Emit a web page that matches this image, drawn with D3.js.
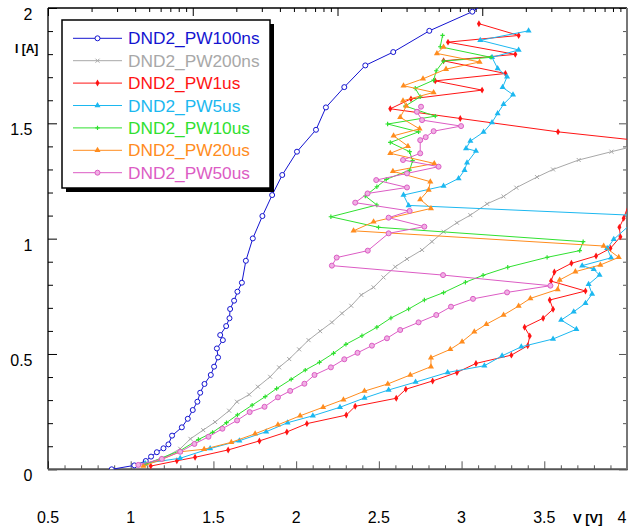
<!DOCTYPE html>
<html>
<head>
<meta charset="utf-8">
<script src="https://cdn.jsdelivr.net/npm/d3@7"></script>
<style>
  body { margin: 0; background: #fff; }
  text { font-family: "Liberation Sans", Arial, sans-serif; }
</style>
</head>
<body>
<svg id="chart" width="629" height="529"></svg>
<script>
// V [V], I [A] pairs
const pw100ns = [
  [0.885, 0.000], [1.022, 0.017], [1.091, 0.036], [1.123, 0.055], [1.158, 0.074],
  [1.198, 0.091], [1.228, 0.108], [1.250, 0.146], [1.309, 0.182], [1.345, 0.219],
  [1.375, 0.257], [1.403, 0.293], [1.420, 0.332], [1.446, 0.370], [1.484, 0.409],
  [1.504, 0.445], [1.528, 0.485], [1.521, 0.524], [1.557, 0.560], [1.541, 0.582],
  [1.577, 0.621], [1.597, 0.655], [1.601, 0.695], [1.625, 0.731], [1.645, 0.770],
  [1.672, 0.809], [1.696, 0.904], [1.738, 1.001], [1.796, 1.098], [1.855, 1.189],
  [1.916, 1.276], [2.005, 1.377], [2.120, 1.472], [2.180, 1.569], [2.291, 1.657],
  [2.418, 1.751], [2.587, 1.809], [2.805, 1.901], [3.065, 1.984], [3.200, 2.050]
];
const pw200ns = [
  [1.075, 0.021], [1.188, 0.045], [1.299, 0.089], [1.361, 0.132], [1.438, 0.170],
  [1.510, 0.205], [1.595, 0.254], [1.642, 0.293], [1.716, 0.324], [1.769, 0.358],
  [1.843, 0.401], [1.897, 0.442], [1.958, 0.478], [2.018, 0.520], [2.075, 0.560],
  [2.145, 0.599], [2.216, 0.637], [2.277, 0.676], [2.333, 0.709], [2.394, 0.756],
  [2.468, 0.789], [2.528, 0.832], [2.599, 0.878], [2.670, 0.912], [2.761, 0.951],
  [2.821, 0.987], [2.891, 1.030], [2.972, 1.069], [3.053, 1.102], [3.154, 1.151],
  [3.254, 1.183], [3.331, 1.221], [3.456, 1.267], [3.553, 1.300], [3.708, 1.341],
  [3.906, 1.377], [4.100, 1.411]
];
const pw1us = [
  [1.121, 0.014], [1.279, 0.037], [1.389, 0.052], [1.589, 0.084], [1.778, 0.123],
  [1.944, 0.162], [2.065, 0.198], [2.303, 0.235], [2.357, 0.273], [2.605, 0.308],
  [2.663, 0.347], [2.825, 0.383], [2.972, 0.420], [3.087, 0.459], [3.301, 0.495],
  [3.400, 0.536], [3.412, 0.578], [3.381, 0.616], [3.493, 0.655], [3.553, 0.694],
  [3.533, 0.734], [3.749, 0.773], [3.541, 0.816], [3.561, 0.855], [3.664, 0.893],
  [3.813, 0.925], [3.900, 0.958], [3.960, 1.008], [3.954, 1.049], [3.980, 1.088],
  [4.140, 1.420], [3.583, 1.463], [2.992, 1.521], [2.569, 1.563], [2.694, 1.606],
  [3.124, 1.644], [2.841, 1.684], [3.265, 1.716], [2.891, 1.771], [3.325, 1.799],
  [2.918, 1.852], [3.345, 1.881], [3.105, 1.932]
];
const pw5us = [
  [1.087, 0.026], [1.299, 0.048], [1.480, 0.090], [1.657, 0.124], [1.819, 0.163],
  [1.948, 0.202], [2.101, 0.232], [2.265, 0.269], [2.413, 0.309], [2.559, 0.344],
  [2.722, 0.378], [2.916, 0.420], [3.138, 0.449], [3.245, 0.492], [3.361, 0.531],
  [3.553, 0.565], [3.694, 0.607], [3.602, 0.647], [3.678, 0.683], [3.749, 0.720],
  [3.789, 0.760], [3.768, 0.802], [3.834, 0.842], [3.799, 0.867], [3.729, 0.883],
  [3.904, 0.917], [3.880, 0.958], [3.920, 0.997], [4.080, 1.100], [2.680, 1.144],
  [2.649, 1.189], [2.891, 1.228], [2.982, 1.261], [3.018, 1.297], [3.033, 1.329],
  [3.087, 1.380], [3.027, 1.391], [3.053, 1.423], [3.133, 1.462], [3.184, 1.504],
  [3.218, 1.543], [3.254, 1.583], [3.311, 1.624], [3.248, 1.656], [3.275, 1.702],
  [3.218, 1.738], [3.184, 1.786], [3.345, 1.818], [3.113, 1.860], [3.405, 1.901]
];
const pw10us = [
  [1.093, 0.023], [1.299, 0.081], [1.409, 0.129], [1.495, 0.160], [1.579, 0.202],
  [1.645, 0.236], [1.734, 0.278], [1.813, 0.315], [1.882, 0.350], [1.970, 0.390],
  [2.055, 0.430], [2.141, 0.464], [2.226, 0.503], [2.301, 0.542], [2.398, 0.579],
  [2.488, 0.616], [2.573, 0.656], [2.680, 0.695], [2.775, 0.734], [2.891, 0.766],
  [3.023, 0.811], [3.130, 0.841], [3.279, 0.876], [3.517, 0.919], [3.714, 0.948],
  [3.735, 0.987], [2.498, 1.049], [2.210, 1.095], [2.488, 1.146], [2.418, 1.185],
  [2.488, 1.225], [2.545, 1.257], [2.686, 1.297], [2.704, 1.338], [2.686, 1.377],
  [2.569, 1.417], [2.740, 1.463], [2.553, 1.497], [2.841, 1.531], [2.660, 1.575],
  [2.750, 1.615], [2.720, 1.652], [2.831, 1.687], [2.847, 1.728], [2.891, 1.770],
  [3.178, 1.786], [2.871, 1.832], [2.885, 1.881]
];
const pw20us = [
  [1.077, 0.014], [1.188, 0.043], [1.299, 0.076], [1.444, 0.087], [1.608, 0.117],
  [1.752, 0.154], [1.890, 0.193], [2.024, 0.232], [2.163, 0.269], [2.286, 0.302],
  [2.413, 0.339], [2.554, 0.370], [2.690, 0.409], [2.815, 0.445], [2.815, 0.484],
  [2.932, 0.520], [3.003, 0.553], [3.077, 0.596], [3.150, 0.629], [3.254, 0.669],
  [3.345, 0.708], [3.416, 0.741], [3.581, 0.780], [3.593, 0.821], [3.688, 0.857],
  [3.839, 0.886], [3.950, 0.919], [3.859, 0.968], [2.347, 1.034], [2.468, 1.073],
  [2.815, 1.131], [2.750, 1.170], [2.801, 1.211], [2.811, 1.247], [2.585, 1.292],
  [2.835, 1.326], [2.569, 1.370], [2.676, 1.401], [2.589, 1.446], [2.746, 1.476],
  [2.629, 1.526], [2.666, 1.575], [2.646, 1.598], [2.831, 1.634], [2.649, 1.663],
  [2.767, 1.693], [2.906, 1.735], [3.109, 1.766], [2.851, 1.803], [2.891, 1.831]
];
const pw50us = [
  [1.046, 0.019], [1.188, 0.045], [1.299, 0.076], [1.385, 0.110], [1.470, 0.141],
  [1.554, 0.176], [1.643, 0.212], [1.719, 0.248], [1.809, 0.271], [1.890, 0.312],
  [1.964, 0.340], [2.050, 0.371], [2.111, 0.409], [2.210, 0.442], [2.291, 0.477],
  [2.371, 0.505], [2.458, 0.536], [2.549, 0.568], [2.629, 0.604], [2.740, 0.637],
  [2.847, 0.669], [2.936, 0.705], [3.069, 0.739], [3.275, 0.767], [3.537, 0.796],
  [2.888, 0.842], [2.216, 0.883], [2.245, 0.918], [2.433, 0.948], [2.559, 1.023],
  [2.775, 1.052], [2.559, 1.091], [2.686, 1.120], [2.357, 1.156], [2.432, 1.196],
  [2.670, 1.222], [2.484, 1.254], [2.670, 1.283], [2.861, 1.312], [2.646, 1.341],
  [2.750, 1.370], [2.750, 1.427], [2.783, 1.440], [2.831, 1.466], [2.997, 1.488],
  [2.761, 1.514], [2.730, 1.550], [2.755, 1.572]
];

const xTickLabels = ["0.5", "1", "1.5", "2", "2.5", "3", "3.5", "4"];
const yTickLabels = ["0", "0.5", "1", "1.5", "2"];

const series = [
  { name: "DND2_PW100ns", data: pw100ns, color: "#1414d0", marker: "ocircle" },
  { name: "DND2_PW200ns", data: pw200ns, color: "#a8a8a8", marker: "times" },
  { name: "DND2_PW1us", data: pw1us, color: "#ff1414", marker: "diamond" },
  { name: "DND2_PW5us", data: pw5us, color: "#1cb8f0", marker: "triangle" },
  { name: "DND2_PW10us", data: pw10us, color: "#30e030", marker: "plus" },
  { name: "DND2_PW20us", data: pw20us, color: "#ff8c1e", marker: "triangle" },
  { name: "DND2_PW50us", data: pw50us, color: "#dc5cc4", marker: "pcircle" }
];

const plot = { left: 48, right: 627, top: 8, bottom: 469.3 };

const svg = d3.select("#chart");

const x = d3.scaleLinear().domain([0.5, 4]).range([plot.left, plot.right]);
const y = d3.scaleLinear().domain([0, 2]).range([plot.bottom, plot.top]);
const xTop = d3.scaleLog().domain([1e-4, 1]).range([plot.left, plot.right]);

const xMinor = d3.range(5, 41).map((d) => d / 10);
const yMinor = d3.range(0, 21).map((d) => d / 10);
const isMajor = (v) => Math.abs(v * 2 - Math.round(v * 2)) < 1e-6;

function tickAxis(axis, values, size, color) {
  return (g) => {
    g.call(axis.tickValues(values).tickSize(size).tickSizeOuter(0).tickFormat(""));
    g.select(".domain").remove();
    g.selectAll(".tick line").attr("stroke", color);
  };
}

// bottom / left / right: linear ticks pointing inward
svg.append("g").attr("transform", `translate(0,${plot.bottom})`)
  .call(tickAxis(d3.axisBottom(x), xMinor.filter((v) => !isMajor(v)), -4, "#555"));
svg.append("g").attr("transform", `translate(0,${plot.bottom})`)
  .call(tickAxis(d3.axisBottom(x), xMinor.filter(isMajor), -8, "#555"));
svg.append("g").attr("transform", `translate(${plot.left},0)`)
  .call(tickAxis(d3.axisLeft(y), yMinor.filter((v) => !isMajor(v)), -5, "#000"));
svg.append("g").attr("transform", `translate(${plot.left},0)`)
  .call(tickAxis(d3.axisLeft(y), yMinor.filter(isMajor), -9, "#000"));
svg.append("g").attr("transform", `translate(${plot.right},0)`)
  .call(tickAxis(d3.axisRight(y), yMinor.filter((v) => !isMajor(v)), -4, "#555"));
svg.append("g").attr("transform", `translate(${plot.right},0)`)
  .call(tickAxis(d3.axisRight(y), yMinor.filter(isMajor), -8, "#555"));

// top: log decades, no labels
const topTicks = xTop.ticks();
const topMajor = topTicks.filter((v) => Math.abs(Math.log10(v) - Math.round(Math.log10(v))) < 1e-6);
svg.append("g").attr("transform", `translate(0,${plot.top})`)
  .call(tickAxis(d3.axisTop(xTop), topTicks.filter((v) => !topMajor.includes(v)), -4, "#000"));
svg.append("g").attr("transform", `translate(0,${plot.top})`)
  .call(tickAxis(d3.axisTop(xTop), topMajor, -8, "#000"));

// frame
svg.append("line").attr("x1", plot.left).attr("x2", plot.right)
  .attr("y1", plot.top).attr("y2", plot.top).attr("stroke", "#000").attr("stroke-width", 1.3);
svg.append("line").attr("x1", plot.left).attr("x2", plot.left)
  .attr("y1", plot.top).attr("y2", plot.bottom).attr("stroke", "#000").attr("stroke-width", 1.3);
svg.append("line").attr("x1", plot.left).attr("x2", plot.right + 1)
  .attr("y1", plot.bottom).attr("y2", plot.bottom).attr("stroke", "#555").attr("stroke-width", 2);
svg.append("line").attr("x1", plot.right).attr("x2", plot.right)
  .attr("y1", plot.top).attr("y2", plot.bottom).attr("stroke", "#777").attr("stroke-width", 2);

// tick labels (last one nudged left so it stays inside the page)
svg.append("g").selectAll("text").data(xTickLabels).join("text")
  .attr("x", (d, i) => (i === xTickLabels.length - 1 ? x(+d) - 5 : x(+d))).attr("y", 523)
  .attr("text-anchor", "middle").attr("font-size", 16).text((d) => d);
svg.append("g").selectAll("text").data(yTickLabels).join("text")
  .attr("x", 32.5).attr("y", (d) => y(+d) + 12)
  .attr("text-anchor", "end").attr("font-size", 16).text((d) => d);

svg.append("text").attr("x", 15).attr("y", 53).attr("font-size", 12)
  .attr("font-weight", "bold").text("I [A]");
svg.append("text").attr("x", 573).attr("y", 523).attr("font-size", 13)
  .attr("font-weight", "bold").text("V [V]");

// markers
function drawMarker(sel, s) {
  if (s.marker === "ocircle" || s.marker === "pcircle") {
    sel.append("circle").attr("r", 2.5)
      .attr("fill", s.marker === "ocircle" ? "#fff" : "#f0b0e4")
      .attr("stroke", s.color).attr("stroke-width", 1);
  } else if (s.marker === "times") {
    sel.append("path").attr("d", "M-2,-2L2,2M-2,2L2,-2")
      .attr("stroke", s.color).attr("stroke-width", 1);
  } else if (s.marker === "plus") {
    sel.append("path").attr("d", "M-2.2,0L2.2,0M0,-2.2L0,2.2")
      .attr("stroke", s.color).attr("stroke-width", 1.2);
  } else if (s.marker === "diamond") {
    sel.append("path").attr("d", d3.symbol(d3.symbolDiamond, 14)).attr("fill", s.color);
  } else {
    sel.append("path").attr("d", d3.symbol(d3.symbolTriangle, 16)).attr("fill", s.color);
  }
}

svg.append("clipPath").attr("id", "clip").append("rect")
  .attr("x", plot.left).attr("y", plot.top)
  .attr("width", plot.right - plot.left).attr("height", plot.bottom - plot.top);

const area = svg.append("g").attr("clip-path", "url(#clip)");
const line = d3.line().x((d) => x(d[0])).y((d) => y(d[1]));

series.forEach((s) => {
  area.append("path").datum(s.data).attr("d", line)
    .attr("fill", "none").attr("stroke", s.color).attr("stroke-width", 1);
  area.append("g").selectAll("g").data(s.data).join("g")
    .attr("transform", (d) => `translate(${x(d[0])},${y(d[1])})`)
    .each(function () { drawMarker(d3.select(this), s); });
});

// legend
const legend = svg.append("g");
legend.append("rect").attr("x", 66).attr("y", 24).attr("width", 208).attr("height", 168).attr("fill", "#000");
legend.append("rect").attr("x", 62).attr("y", 20).attr("width", 208).attr("height", 168)
  .attr("fill", "#fff").attr("stroke", "#000").attr("stroke-width", 1.5);
series.forEach((s, i) => {
  const cy = 38.3 + i * 22.4;
  legend.append("line").attr("x1", 73).attr("x2", 122).attr("y1", cy).attr("y2", cy)
    .attr("stroke", s.color).attr("stroke-width", 1);
  drawMarker(legend.append("g").attr("transform", `translate(97.5,${cy})`), s);
  legend.append("text").attr("x", 128).attr("y", cy + 6).attr("font-size", 17.3)
    .attr("fill", s.color).text(s.name);
});
</script>
</body>
</html>
